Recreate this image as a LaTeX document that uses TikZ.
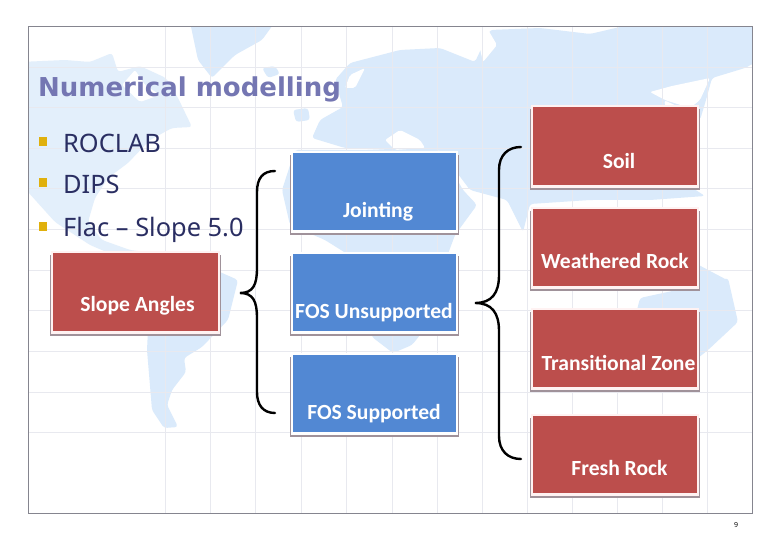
\documentclass[tikz,border=0pt]{standalone}
\usepackage{fontspec}
\setmainfont{Noto Sans}
\newfontfamily\titlefont{DejaVu Sans}
\newfontfamily\boxfont{Carlito}
\definecolor{mapblue}{HTML}{DAEAFB}
\definecolor{mapfade}{HTML}{E3EFFB}
\definecolor{gridgrey}{HTML}{E8E9EF}
\definecolor{framegrey}{HTML}{85858F}
\definecolor{boxred}{HTML}{BC4E4C}
\definecolor{boxblue}{HTML}{5288D3}
\definecolor{titleblue}{HTML}{7476B2}
\definecolor{bodynavy}{HTML}{2A2E62}
\definecolor{bulletgold}{HTML}{E0B00C}
\definecolor{shadowmauve}{HTML}{A0929A}
\tikzset{
  x=1pt,y=-1pt,
  land/.style={fill=mapblue,draw=none,rounded corners=3pt},
  fadeland/.style={fill=mapfade,draw=none,rounded corners=3pt},
  hole/.style={fill=white,draw=none,rounded corners=2pt},
  gridline/.style={draw=gridgrey,line width=0.8pt},
  shadowband/.style={fill=shadowmauve,draw=none},
  halo/.style={fill=#1,draw=none},
  panel/.style={fill=#1,draw=none},
  boxlabel/.style={text=white,font=\boxfont\bfseries\fontsize{21.6}{23}\selectfont,inner sep=0pt},
  bodytext/.style={text=bodynavy,font=\fontsize{25.4}{27}\selectfont,anchor=base west,inner sep=0pt},
  bulletmark/.style={fill=bulletgold,draw=none,minimum width=8.5pt,minimum height=9pt,inner sep=0pt},
  bracket/.style={draw=black,line width=2.4pt,line cap=round},
}
\newcommand{\slidebox}[7]{%
  \fill[shadowband] (#2-3,#3+2) rectangle (#4+3,#5+5);
  \fill[halo=#7] (#2-2,#3-2) rectangle (#4+2,#5+3);
  \node[panel=#6,anchor=north west,inner sep=0pt,minimum width=#4pt-#2pt,minimum height=#5pt-#3pt] (#1) at (#2,#3) {};
}
\begin{document}
\begin{tikzpicture}
\useasboundingbox (0,0) rectangle (780,540);
\fill[white] (0,0) rectangle (780,540);
\begin{scope}
\clip (28,27) rectangle (752,513);
% North America
\fill[fadeland] (20,62) -- (65,60) -- (90,62) -- (112,53) -- (118,72) -- (140,66) -- (166,78) -- (178,98) -- (192,127) -- (172,128) -- (150,140) -- (128,163) -- (108,178) -- (95,198) -- (88,222) -- (102,240) -- (130,250) -- (175,256) -- (130,262) -- (90,245) -- (55,222) -- (28,192) -- (20,170) -- cycle;
\fill[hole] (135,70) -- (145,85) -- (160,95) -- (140,102) -- (122,85) -- cycle;
% Greenland and Iceland
\fill[land] (190,22) -- (275,22) -- (262,40) -- (235,55) -- (212,78) -- (198,60) -- cycle;
\fill[land] (262,68) -- (275,66) -- (280,74) -- (268,78) -- cycle;
% Central and South America
\fill[land] (170,250) -- (238,280) -- (228,320) -- (202,347) -- (184,358) -- (186,372) -- (172,390) -- (167,405) -- (178,427) -- (164,428) -- (152,410) -- (147,350) -- (148,330) -- cycle;
% Eurasia
\fill[land] (400,50) -- (440,48) -- (475,62) -- (490,30) -- (540,28) -- (590,34) -- (650,20) -- (760,20) -- (760,60) -- (745,68) -- (712,78) -- (706,100) -- (700,120) -- (690,112) -- (664,100) -- (680,180) -- (705,196) -- (650,200) -- (590,200) -- (530,204) -- (523,232) -- (507,200) -- (470,190) -- (440,150) -- (390,150) -- (345,148) -- (312,138) -- (320,120) -- (343,107) -- (335,80) -- (350,63) -- cycle;
\fill[land] (293,110) -- (308,108) -- (310,120) -- (296,122) -- cycle;
\fill[hole] (487,28) -- (497,45) -- (483,62) -- (478,40) -- cycle;
\fill[hole] (710,78) -- (700,100) -- (690,108) -- (665,100) -- (650,92) -- (672,86) -- cycle;
\fill[hole] (728,78) -- (738,82) -- (730,110) -- (722,100) -- cycle;
\fill[hole] (385,140) -- (400,130) -- (420,140) -- (425,148) -- (395,150) -- cycle;
\fill[hole] (350,75) -- (365,68) -- (355,88) -- (345,88) -- cycle;
% Africa
\fill[land] (295,150) -- (282,190) -- (290,225) -- (325,240) -- (360,262) -- (372,337) -- (393,353) -- (412,345) -- (432,320) -- (445,262) -- (455,235) -- (477,205) -- (463,190) -- (440,150) -- cycle;
% South-East Asia islands
\fill[land] (693,262) -- (727,280) -- (700,290) -- (660,285) -- cycle;
% Australia
\fill[land] (640,298) -- (700,285) -- (728,278) -- (738,322) -- (708,350) -- (698,358) -- (665,340) -- (640,322) -- (637,310) -- cycle;
% grid
\foreach \gx in {165,210,255,301,346,392,437,482,527,572,617,662,707}
  \draw[gridline] (\gx,27) -- (\gx,513);
\foreach \gy in {67,107,148,188,229,270,310,351,392,432}
  \draw[gridline] (28,\gy) -- (752,\gy);
\end{scope}
\draw[draw=framegrey,line width=1pt] (28,27) rectangle (752,513);

\node[text=titleblue,font=\titlefont\bfseries\fontsize{26}{28}\selectfont,anchor=base west,inner sep=0pt] (title) at (38,97) {Numerical modelling};

\node[bulletmark] (b1) at (43,141.5) {};
\node[bulletmark] (b2) at (43,183) {};
\node[bulletmark] (b3) at (43,226.5) {};
\node[bodytext] (t1) at (63,153) {ROCLAB};
\node[bodytext] (t2) at (63,194) {DIPS};
\node[bodytext] (t3) at (63,237) {Flac – Slope 5.0};

\slidebox{slope}{53}{253}{218}{331}{boxred}{red!5!white}
\slidebox{joint}{293}{153}{456}{230}{boxblue}{white}
\slidebox{fosu}{293}{254}{456}{331}{boxblue}{white}
\slidebox{foss}{293}{355}{456}{432}{boxblue}{white}
\slidebox{soil}{533}{107}{697}{185}{boxred}{red!5!white}
\slidebox{weath}{533}{209}{697}{286}{boxred}{red!5!white}
\slidebox{trans}{533}{310}{697}{387}{boxred}{red!5!white}
\slidebox{fresh}{533}{416}{697}{493}{boxred}{red!5!white}

\node[boxlabel] (lslope) at (137.5,306) {Slope Angles};
\node[boxlabel] (ljoint) at (378,212) {Jointing};
\node[boxlabel] (lfosu) at (374,313) {FOS Unsupported};
\node[boxlabel] (lfoss) at (374,414) {FOS Supported};
\node[boxlabel] (lsoil) at (619,161) {Soil};
\node[boxlabel] (lweath) at (615,261) {Weathered Rock};
\node[boxlabel] (ltrans) at (618.5,363) {Transitional Zone};
\node[boxlabel] (lfresh) at (619.5,468) {Fresh Rock};

\coordinate (lbA) at (275,171);
\coordinate (lbB) at (240,293);
\coordinate (lbC) at (275,413);
\draw[bracket] (lbA) .. controls (263,171) and (257,178) .. (257,192) -- (257,268) .. controls (257,285) and (253,293) .. (lbB) .. controls (253,293) and (257,301) .. (257,318) -- (257,392) .. controls (257,405) and (263,413) .. (lbC);
\coordinate (rbA) at (521,147);
\coordinate (rbB) at (475,303);
\coordinate (rbC) at (521,459);
\draw[bracket] (rbA) .. controls (508,147) and (499,155) .. (499,170) -- (499,275) .. controls (499,293) and (492,303) .. (rbB) .. controls (492,303) and (499,313) .. (499,331) -- (499,436) .. controls (499,451) and (508,459) .. (rbC);

\node[text=black,font=\fontsize{7}{8}\selectfont,inner sep=0pt] (pageno) at (736,525) {9};
\end{tikzpicture}
\end{document}
